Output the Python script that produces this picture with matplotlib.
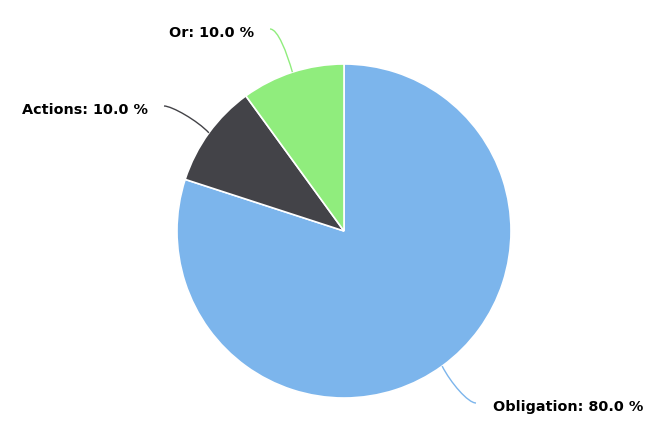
import numpy as np
import matplotlib
matplotlib.use("Agg")
import matplotlib.pyplot as plt
from matplotlib.path import Path
from matplotlib.patches import PathPatch

categories = ["Obligation", "Actions", "Or"]
values = [80.0, 10.0, 10.0]
colors = ["#7cb5ec", "#434348", "#90ed7d"]

W, H = 654, 428
fig = plt.figure(figsize=(W / 100, H / 100), dpi=100)
ax = fig.add_axes([0, 0, 1, 1])

cx, cy_img, R = 344, 231, 167
cy = H - cy_img

wedges, _ = ax.pie(values, colors=colors, startangle=90, counterclock=False,
                   center=(cx, cy), radius=R, frame=True,
                   wedgeprops=dict(edgecolor="white", linewidth=1.2))
ax.set_xlim(0, W)
ax.set_ylim(0, H)
ax.axis("off")

# label anchor (image coords of connector end), alignment, text offset
label_layout = {
    "Or": ((270, 29), "right", (-16, -4)),
    "Actions": ((164, 106), "right", (-16, -4)),
    "Obligation": ((476, 403), "left", (17, -4)),
}

total = sum(values)
start = 0.0
for cat, val, col in zip(categories, values, colors):
    mid = start + val / 2
    start += val
    ang = np.deg2rad(90 - 360 * mid / total)
    ex, ey = cx + R * np.cos(ang), cy + R * np.sin(ang)
    (lx, ly_img), ha, (dx, dy) = label_layout[cat]
    ly = H - ly_img
    sgn = 1 if ha == "right" else -1
    p1 = (lx + sgn * 8, ly)
    p2 = (ex + (lx - ex) * 0.25, ey + (ly - ey) * 0.45)
    path = Path([(lx, ly), p1, p2, (ex, ey)],
                [Path.MOVETO, Path.CURVE4, Path.CURVE4, Path.CURVE4])
    ax.add_patch(PathPatch(path, facecolor="none", edgecolor=col, lw=1))
    pct = 100 * val / total
    ax.text(lx + dx, ly + dy, f"{cat}: {pct:.1f} %", ha=ha, va="center",
            fontsize=10.4, fontweight="bold", color="black",
            family="DejaVu Sans")

fig.savefig("out.png", dpi=100, facecolor="white")
